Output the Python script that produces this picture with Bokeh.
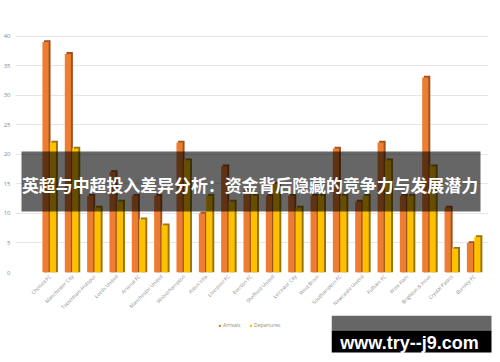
import numpy as np
from bokeh.plotting import figure
from bokeh.layouts import column, row
from bokeh.models import (ColumnDataSource, Range1d, FixedTicker, BoxAnnotation, Label,
                          Legend, LegendItem)
from bokeh.transform import dodge
from bokeh.embed import file_html
from bokeh.resources import INLINE
from math import pi

teams = ["Chelsea FC", "Manchester City", "Tottenham Hotspur", "Leeds United", "Arsenal FC",
         "Manchester United", "Wolverhampton", "Aston Villa", "Liverpool FC", "Everton FC",
         "Sheffield United", "Leicester City", "West Brom", "Southampton FC", "Newcastle United",
         "Fulham FC", "West Ham", "Brighton & Hove", "Crystal Palace", "Burnley FC"]
arrivals = [39, 37, 13, 17, 13, 13, 22, 10, 18, 14, 13, 13, 13, 21, 12, 22, 13, 33, 11, 5]
departures = [22, 21, 11, 12, 9, 8, 19, 13, 12, 13, 15, 11, 13, 13, 13, 19, 13, 18, 4, 6]
y_ticks = [0, 5, 10, 15, 20, 25, 30, 35, 40]
series_labels = ["Arrivals", "Departures"]
title_text = "英超与中超投入差异分析：资金背后隐藏的竞争力与发展潜力"
watermark = "www.try--j9.com"

ORANGE, ORANGE_DARK = "#ED7D31", "#9E5220"
YELLOW, YELLOW_DARK = "#FFC000", "#9A7400"
GRAY_TXT = "#8a8a8a"

idx = list(range(len(teams)))
src = ColumnDataSource(dict(x=idx, arrivals=arrivals, departures=departures))

# ---------------- main chart ----------------
FL, FR, FT, FB = 15, 488, 30, 272   # frame edges in page pixels
H1 = 315
p = figure(width=500, height=H1, output_backend="svg", toolbar_location=None,
           x_range=Range1d(-1.544, 19.63), y_range=Range1d(0, 40.96),
           min_border_left=FL, min_border_right=500 - FR, min_border_top=FT,
           min_border_bottom=H1 - FB)
p.outline_line_color = None

W = 0.29
p.vbar(x=dodge("x", -0.12, range=p.x_range), top=dodge("arrivals", 0.3, range=p.y_range),
       bottom=0, width=W, source=src, fill_color=ORANGE_DARK, line_color=None)
r_arr = p.vbar(x=dodge("x", -0.20, range=p.x_range), top="arrivals", bottom=0, width=W * 0.95,
               source=src, fill_color=ORANGE, line_color=None)
p.vbar(x=dodge("x", 0.21, range=p.x_range), top=dodge("departures", 0.3, range=p.y_range),
       bottom=0, width=W, source=src, fill_color=YELLOW_DARK, line_color=None)
r_dep = p.vbar(x=dodge("x", 0.13, range=p.x_range), top="departures", bottom=0, width=W * 0.95,
               source=src, fill_color=YELLOW, line_color=None)

for ax in (p.xaxis, p.yaxis):
    ax.axis_line_color = None
    ax.major_tick_line_color = None
    ax.minor_tick_line_color = None
    ax.major_tick_out = 0
    ax.major_tick_in = 0
    ax.minor_tick_out = 0
    ax.minor_tick_in = 0
    ax.major_label_text_color = GRAY_TXT
    ax.major_label_text_font = "Open Sans"

p.yaxis.ticker = FixedTicker(ticks=y_ticks)
p.yaxis.major_label_text_font_size = "6px"
p.yaxis.major_label_standoff = 5

p.xaxis.ticker = FixedTicker(ticks=idx)
p.xaxis.major_label_overrides = {i: t for i, t in enumerate(teams)}
p.xaxis.major_label_orientation = pi / 4
p.xaxis.major_label_text_font_size = "5px"
p.xaxis.major_label_standoff = 3

p.xgrid.grid_line_color = None
p.ygrid.grid_line_color = "#e6e6e6"
p.ygrid.grid_line_width = 1

def fx(px):
    return px - FL

def fy(py):
    return FB - py

p.add_layout(BoxAnnotation(left=fx(21), right=fx(480), top=fy(151), bottom=fy(211),
                           left_units="screen", right_units="screen", top_units="screen",
                           bottom_units="screen", fill_color="black", fill_alpha=0.6,
                           line_color=None))
p.add_layout(Label(x=fx(249.5), y=fy(184), x_units="screen", y_units="screen", text=title_text,
                   text_align="center", text_baseline="middle", text_color="white",
                   text_font="Noto Sans CJK SC", text_font_style="bold", text_font_size="16.9px"))

# ---------------- bottom strip: legend ----------------
H2 = 362 - H1
WL = 331
pl = figure(width=WL, height=H2, output_backend="svg", toolbar_location=None,
            x_range=Range1d(0, 1), y_range=Range1d(0, 1), min_border=0)
pl.axis.visible = False
pl.grid.visible = False
pl.outline_line_color = None
la = pl.vbar(x=[5], top=[1], width=0.1, fill_color=ORANGE, line_color=None)
ld = pl.vbar(x=[5], top=[1], width=0.1, fill_color=YELLOW, line_color=None)
legend = Legend(items=[LegendItem(label=series_labels[0], renderers=[la]),
                       LegendItem(label=series_labels[1], renderers=[ld])],
                location=(218, H2 - 13), orientation="horizontal",
                label_text_font_size="5px", label_text_color=GRAY_TXT,
                glyph_width=3, glyph_height=3, label_standoff=2, spacing=6,
                padding=0, margin=0, border_line_color=None, background_fill_alpha=0,
                label_height=5, label_text_font="Open Sans")
pl.add_layout(legend, "center")

# ---------------- bottom strip: watermark ----------------
WW = 500 - WL
pw = figure(width=WW, height=H2, output_backend="svg", toolbar_location=None,
            x_range=Range1d(0, WW), y_range=Range1d(H2, 0), min_border=0)
pw.axis.visible = False
pw.grid.visible = False
pw.outline_line_color = None
pw.quad(left=[0], right=[160], top=[0], bottom=[15], fill_color="black", fill_alpha=0.6,
        line_color=None)
pw.quad(left=[0], right=[160], top=[15], bottom=[37], fill_color="black", line_color=None)
pw.add_layout(Label(x=78, y=27, text=watermark, text_align="center",
                    text_baseline="alphabetic", text_color="white",
                    text_font="Liberation Sans", text_font_style="bold",
                    text_font_size="18px"))

layout = column(p, row(pl, pw, spacing=0), spacing=0)
open("out.html", "w").write(file_html(layout, INLINE))
